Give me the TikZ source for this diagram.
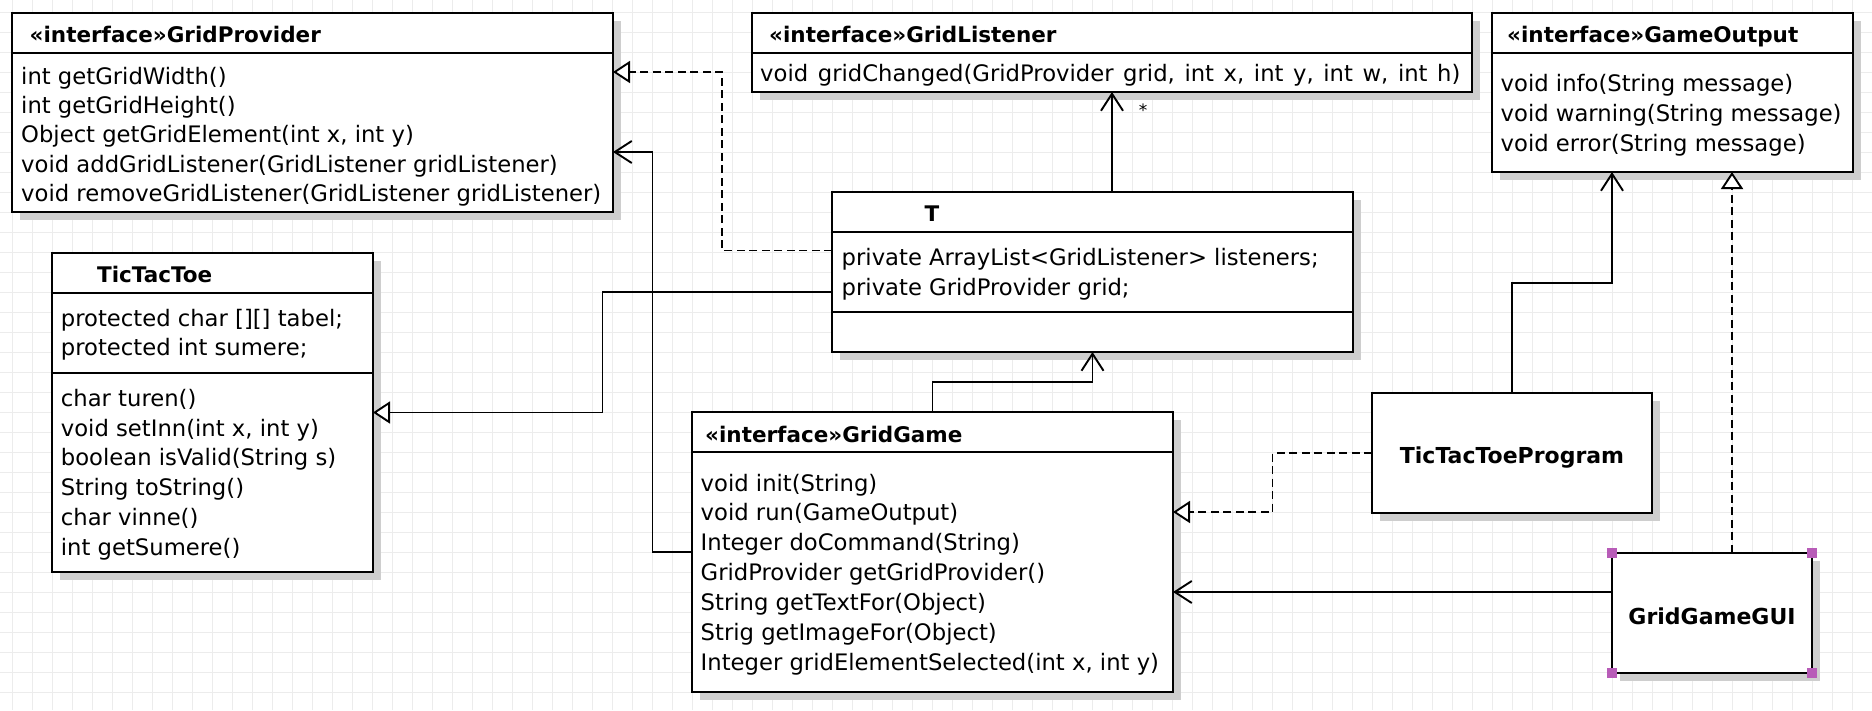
\documentclass[tikz,border=0pt]{standalone}
\usepackage{fontspec}
\setmainfont{DejaVu Sans}
\usetikzlibrary{arrows.meta,shadows}
\definecolor{gridgray}{RGB}{236,236,236}
\definecolor{shadowgray}{RGB}{206,206,206}
\definecolor{handlepurple}{RGB}{184,92,184}
\tikzset{
  classbox/.style={draw,fill=white,line width=2pt,anchor=north west,inner sep=0pt,outer sep=0pt,
    drop shadow={shadow xshift=8pt,shadow yshift=-8pt,fill=shadowgray,opacity=1}},
  divider/.style={line width=2pt},
  member/.style={anchor=base west,inner sep=0pt,font=\fontsize{22.7}{28}\selectfont},
  header/.style={anchor=base west,inner sep=0pt,font=\fontsize{21.5}{26}\selectfont\bfseries},
  classname/.style={anchor=base,inner sep=0pt,font=\fontsize{22}{26}\selectfont\bfseries},
  mult/.style={inner sep=0pt,font=\fontsize{17}{17}\selectfont},
  assoc/.style={line width=1.9pt,-{Straight Barb[length=17pt,width=22pt]}},
  inherit/.style={line width=1.9pt,-{Triangle[open,fill=white,length=17pt,width=22pt]}},
  realize/.style={inherit,dash pattern=on 8pt off 4.5pt},
  handle/.style={fill=handlepurple,inner sep=0pt,minimum size=10pt},
  bggrid/.style={gridgray,line width=1.5pt},
}
\begin{document}
\begin{tikzpicture}[x=1pt,y=-1pt]
\useasboundingbox (0,0) rectangle (1872,710);
%grid
\fill[white] (0,0) rectangle (1872,710);
\foreach \gx in {12.5,32.5,...,1872} \draw[bggrid] (\gx,0)--(\gx,710);
\foreach \gy in {12.5,32.5,...,710} \draw[bggrid] (0,\gy)--(1872,\gy);
%
%GridProvider
\node[classbox,minimum width=601pt,minimum height=199pt] (gp) at (12,13) {};
\draw[divider] ([yshift=-39.5pt]gp.north west)--([yshift=-39.5pt]gp.north east);
\node[header] (gpHead) at ([xshift=17.5pt,yshift=-29pt]gp.north west) {«interface»GridProvider};
\foreach \m [count=\i] in {int getGridWidth(),int getGridHeight(),{Object getGridElement(int x, int y)},void addGridListener(GridListener gridListener),void removeGridListener(GridListener gridListener)}
  \node[member] (gpOp\i) at ([xshift=9pt,yshift={-71pt-29.4pt*(\i-1)}]gp.north west) {\m};
%GridListener
\node[classbox,minimum width=720pt,minimum height=79pt] (gl) at (752,13) {};
\draw[divider] ([yshift=-39.5pt]gl.north west)--([yshift=-39.5pt]gl.north east);
\node[header] (glHead) at ([xshift=17pt,yshift=-29pt]gl.north west) {«interface»GridListener};
\node[member] (glOp1) at ([xshift=8pt,yshift=-68.5pt]gl.north west) {\spaceskip=9.6pt\relax void gridChanged(GridProvider grid, int x, int y, int w, int h)};
%GameOutput
\node[classbox,minimum width=361pt,minimum height=159pt] (go) at (1492,13) {};
\draw[divider] ([yshift=-39.5pt]go.north west)--([yshift=-39.5pt]go.north east);
\node[header] (goHead) at ([xshift=15pt,yshift=-29pt]go.north west) {«interface»GameOutput};
\foreach \m [count=\i] in {void info(String message),void warning(String message),void error(String message)}
  \node[member] (goOp\i) at ([xshift=8.5pt,yshift={-78.7pt-30pt*(\i-1)}]go.north west) {\m};
%T
\node[classbox,minimum width=521pt,minimum height=160pt] (t) at (832,192) {};
\draw[divider] ([yshift=-39.5pt]t.north west)--([yshift=-39.5pt]t.north east);
\draw[divider] ([yshift=-120pt]t.north west)--([yshift=-120pt]t.north east);
\node[header,anchor=base] (tHead) at ([xshift=100pt,yshift=-29.5pt]t.north west) {T};
\foreach \m [count=\i] in {private ArrayList<GridListener> listeners;,private GridProvider grid;}
  \node[member] (tAttr\i) at ([xshift=9.5pt,yshift={-73.7pt-30pt*(\i-1)}]t.north west) {\m};
%TicTacToe
\node[classbox,minimum width=321pt,minimum height=319pt] (ttt) at (52,253) {};
\draw[divider] ([yshift=-39.5pt]ttt.north west)--([yshift=-39.5pt]ttt.north east);
\draw[divider] ([yshift=-119.5pt]ttt.north west)--([yshift=-119.5pt]ttt.north east);
\node[header,anchor=base] (tttHead) at ([xshift=102.7pt,yshift=-29pt]ttt.north west) {TicTacToe};
\foreach \m [count=\i] in {{protected char [][] tabel;},protected int sumere;}
  \node[member] (tttAttr\i) at ([xshift=8.7pt,yshift={-73.3pt-29pt*(\i-1)}]ttt.north west) {\m};
\foreach \m [count=\i] in {char turen(),{void setInn(int x, int y)},boolean isValid(String s),String toString(),char vinne(),int getSumere()}
  \node[member] (tttOp\i) at ([xshift=8.7pt,yshift={-153.3pt-29.8pt*(\i-1)}]ttt.north west) {\m};
%GridGame
\node[classbox,minimum width=481pt,minimum height=280pt] (gg) at (692,412) {};
\draw[divider] ([yshift=-39.5pt]gg.north west)--([yshift=-39.5pt]gg.north east);
\node[header] (ggHead) at ([xshift=13pt,yshift=-30.5pt]gg.north west) {«interface»GridGame};
\foreach \m [count=\i] in {void init(String),void run(GameOutput),Integer doCommand(String),GridProvider getGridProvider(),String getTextFor(Object),Strig getImageFor(Object),{Integer gridElementSelected(int x, int y)}}
  \node[member] (ggOp\i) at ([xshift=8.5pt,yshift={-79pt-29.95pt*(\i-1)}]gg.north west) {\m};
%TicTacToeProgram
\node[classbox,minimum width=280pt,minimum height=120pt] (ttp) at (1372,393) {};
\node[classname] (ttpName) at ([yshift=-70pt]ttp.north) {TicTacToeProgram};
%GridGameGUI
\node[classbox,minimum width=200pt,minimum height=120pt] (gui) at (1612,552.5) {};
\node[classname] (guiName) at ([yshift=-71.5pt]gui.north) {GridGameGUI};
\node[handle] (hNW) at (gui.north west) {};
\node[handle] (hNE) at (gui.north east) {};
\node[handle] (hSW) at (gui.south west) {};
\node[handle] (hSE) at (gui.south east) {};
%========
%connectors
\draw[realize] ([yshift=-58.5pt]t.north west)--++(-110,0)|-([yshift=-59pt]gp.north east);
\draw[assoc] (gl.south |- t.north)--(gl.south);
\node[mult] (glMult) at ([xshift=31pt,yshift=-18pt]gl.south) {*};
\draw[inherit] ([yshift=-100pt]t.north west)--++(-229.5,0)|-(ttt.east);
\draw[assoc] (gg.west)--++(-39.5,0)|-([yshift=-139pt]gp.north east);
\draw[assoc] (gg.north)--++(0,-30)-|(t.south);
\draw[realize] (ttp.west)--++(-99.5,0)|-([yshift=-100pt]gg.north east);
\draw[assoc] (ttp.north)--++(0,-110)-|([xshift=120pt]go.south west);
\draw[realize] ([xshift=120pt]gui.north west)--([xshift=240pt]go.south west);
\draw[assoc] ([yshift=-39.5pt]gui.north west)--([yshift=-180pt]gg.north east);
\end{tikzpicture}
\end{document}
